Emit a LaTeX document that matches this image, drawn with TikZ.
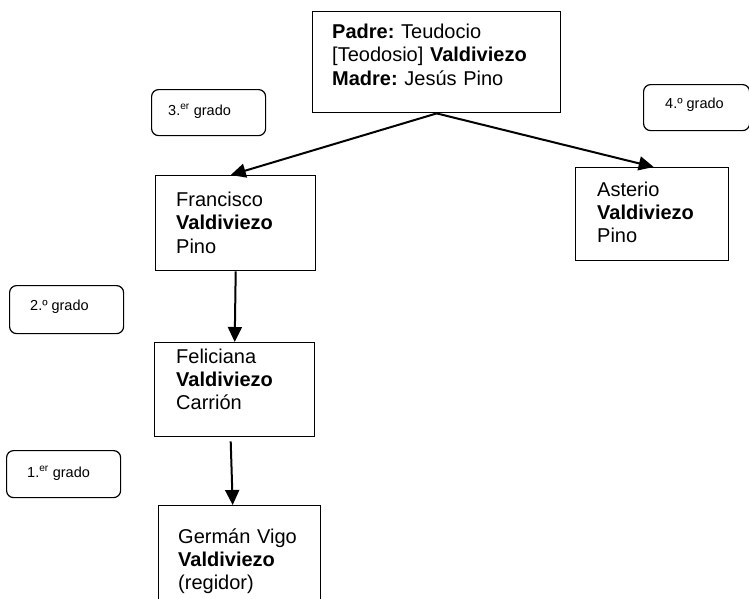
\documentclass[tikz,border=0pt]{standalone}
\usepackage{fontspec}
\setmainfont{Liberation Sans}
\usetikzlibrary{arrows.meta,calc}
\frenchspacing
\begin{document}
\begin{tikzpicture}[x=1pt,y=-1pt,
  box/.style={draw,line width=1.4pt,rectangle,inner sep=0pt,anchor=north west},
  gradebox/.style={draw,line width=1.2pt,rounded corners=7pt,rectangle,inner sep=0pt,anchor=north west},
  txt/.style={inner sep=0pt,anchor=base west,align=left,text width=#1,font=\fontsize{20}{23.3}\selectfont\frenchspacing},
  txt/.default=140pt,
  gtxt/.style={inner sep=0pt,anchor=base west,font=\fontsize{14.5}{17}\selectfont},
  arr/.style={line width=2pt,-{Triangle[length=15pt,width=14pt]}}]
\useasboundingbox (0,0) rectangle (749,598);
\clip (0,0) rectangle (749,598);
% boxes
\node[box,minimum width=248pt,minimum height=101pt] (top) at (312,11) {};
\node[box,minimum width=160pt,minimum height=95pt] (fr) at (155,175) {};
\node[box,minimum width=153pt,minimum height=93pt] (as) at (575,167) {};
\node[box,minimum width=160pt,minimum height=94pt] (fe) at (154,342) {};
\node[box,minimum width=162pt,minimum height=120pt] (ge) at (158,505) {};
% texts
\node[txt=230pt] (toptxt) at ($(top.north west)+(20,27.5)$)
  {\textbf{Padre:} Teudocio\\{[Teodosio]} \textbf{Valdiviezo}\\\textbf{Madre:} Jesús Pino};
\node[txt] (frtxt) at ($(fr.north west)+(21,31.5)$) {Francisco\\\textbf{Valdiviezo}\\Pino};
\node[txt] (astxt) at ($(as.north west)+(22,29)$) {Asterio\\\textbf{Valdiviezo}\\Pino};
\node[txt] (fetxt) at ($(fe.north west)+(22,21)$) {Feliciana\\\textbf{Valdiviezo}\\Carrión};
\node[txt] (getxt) at ($(ge.north west)+(20,38)$) {Germán Vigo\\\textbf{Valdiviezo}\\(regidor)};
% grade boxes
\node[gradebox,minimum width=114pt,minimum height=46pt] (g3) at (151,89) {};
\node[gradebox,minimum width=106pt,minimum height=46pt] (g4) at (643,84) {};
\node[gradebox,minimum width=114pt,minimum height=48pt] (g2) at (9,285) {};
\node[gradebox,minimum width=114pt,minimum height=47pt] (g1) at (6,450) {};
\node[gtxt] (g3txt) at ($(g3.north west)+(17,26)$) {3.\textsuperscript{er} grado};
\node[gtxt] (g4txt) at ($(g4.north west)+(22,24)$) {4.º grado};
\node[gtxt] (g2txt) at ($(g2.north west)+(21,25)$) {2.º grado};
\node[gtxt] (g1txt) at ($(g1.north west)+(21,27)$) {1.\textsuperscript{er} grado};
% connectors
\draw[arr] (top.south) -- ($(fr.north)+(-5,0)$);
\draw[arr] (top.south) -- ($(as.north)+(1.5,0)$);
\draw[arr] (fr.south) -- (fe.north);
\draw[arr] ($(fe.south)+(-4,4)$) -- ($(ge.north)+(-7,0)$);
\end{tikzpicture}
\end{document}
